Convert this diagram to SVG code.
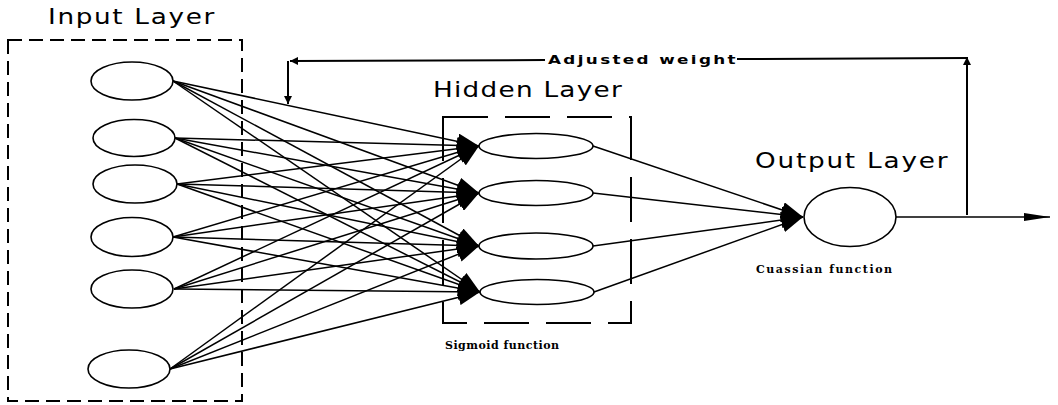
<svg xmlns="http://www.w3.org/2000/svg" width="1058" height="405" viewBox="0 0 1058 405">
<style>
.bg{fill:#fff}
.node{fill:#fff;stroke:#000;stroke-width:1.6}
.box{fill:none;stroke:#000;stroke-width:2}
.in{stroke-dasharray:14 7}
.hid{stroke-dasharray:45 17}
.c{stroke:#000;stroke-width:1.5;fill:none}
.fb{stroke-width:2}
.title{font-family:"DejaVu Sans",sans-serif;font-size:21px;fill:#000}
.small{font-family:"DejaVu Serif",serif;font-weight:bold;font-size:11px;fill:#000}
.adj{font-family:"DejaVu Sans",sans-serif;font-weight:bold;font-size:12px;fill:#000}
</style>
<defs>
<marker id="ah" viewBox="0 0 22 16" markerUnits="userSpaceOnUse" markerWidth="22" markerHeight="16" refX="22" refY="8" orient="auto">
<path d="M0,0 L22,8 L0,16 z" fill="#000"/>
</marker>
<marker id="ao" viewBox="0 0 26 8" markerUnits="userSpaceOnUse" markerWidth="26" markerHeight="8" refX="26" refY="4" orient="auto">
<path d="M0,0 L26,4 L0,8 z" fill="#000"/>
</marker>
<marker id="as" viewBox="0 0 8 8" markerUnits="userSpaceOnUse" markerWidth="8" markerHeight="8" refX="8" refY="4" orient="auto">
<path d="M0,0 L8,4 L0,8 z" fill="#000"/>
</marker>
</defs>
<rect class="bg" x="0" y="0" width="1058" height="405"/>
<g id="input-layer">
<rect class="box in" x="8" y="40" width="234" height="361"/>
<text class="title" transform="translate(48,24) scale(1.25,1)" x="0" y="0" textLength="133" lengthAdjust="spacing">Input Layer</text>
</g>
<g id="hidden-layer">
<rect class="box hid" x="443" y="117" width="188" height="206"/>
<text class="title" transform="translate(433,97) scale(1.25,1)" x="0" y="0" textLength="151" lengthAdjust="spacing">Hidden Layer</text>
<text class="small" x="445" y="349" textLength="114" lengthAdjust="spacing">Sigmoid function</text>
</g>
<g id="output-layer">
<text class="title" transform="translate(755,168) scale(1.25,1)" x="0" y="0" textLength="154" lengthAdjust="spacing">Output Layer</text>
<text class="small" x="756" y="273" textLength="136" lengthAdjust="spacing">Cuassian function</text>
</g>
<g id="connectors">
<g id="input-to-hidden">
<line class="c" x1="173" y1="81" x2="479" y2="146" marker-end="url(#ah)"/>
<line class="c" x1="173" y1="81" x2="479" y2="193" marker-end="url(#ah)"/>
<line class="c" x1="173" y1="81" x2="479" y2="246" marker-end="url(#ah)"/>
<line class="c" x1="173" y1="81" x2="480" y2="292" marker-end="url(#ah)"/>
<line class="c" x1="175" y1="138" x2="479" y2="146" marker-end="url(#ah)"/>
<line class="c" x1="175" y1="138" x2="479" y2="193" marker-end="url(#ah)"/>
<line class="c" x1="175" y1="138" x2="479" y2="246" marker-end="url(#ah)"/>
<line class="c" x1="175" y1="138" x2="480" y2="292" marker-end="url(#ah)"/>
<line class="c" x1="177" y1="184" x2="479" y2="146" marker-end="url(#ah)"/>
<line class="c" x1="177" y1="184" x2="479" y2="193" marker-end="url(#ah)"/>
<line class="c" x1="177" y1="184" x2="479" y2="246" marker-end="url(#ah)"/>
<line class="c" x1="177" y1="184" x2="480" y2="292" marker-end="url(#ah)"/>
<line class="c" x1="173" y1="237" x2="479" y2="146" marker-end="url(#ah)"/>
<line class="c" x1="173" y1="237" x2="479" y2="193" marker-end="url(#ah)"/>
<line class="c" x1="173" y1="237" x2="479" y2="246" marker-end="url(#ah)"/>
<line class="c" x1="173" y1="237" x2="480" y2="292" marker-end="url(#ah)"/>
<line class="c" x1="174" y1="289" x2="479" y2="146" marker-end="url(#ah)"/>
<line class="c" x1="174" y1="289" x2="479" y2="193" marker-end="url(#ah)"/>
<line class="c" x1="174" y1="289" x2="479" y2="246" marker-end="url(#ah)"/>
<line class="c" x1="174" y1="289" x2="480" y2="292" marker-end="url(#ah)"/>
<line class="c" x1="170" y1="369" x2="479" y2="146" marker-end="url(#ah)"/>
<line class="c" x1="170" y1="369" x2="479" y2="193" marker-end="url(#ah)"/>
<line class="c" x1="170" y1="369" x2="479" y2="246" marker-end="url(#ah)"/>
<line class="c" x1="170" y1="369" x2="480" y2="292" marker-end="url(#ah)"/>
</g>
<g id="hidden-to-output">
<line class="c" x1="593" y1="146" x2="803" y2="217" marker-end="url(#ah)"/>
<line class="c" x1="593" y1="193" x2="803" y2="217" marker-end="url(#ah)"/>
<line class="c" x1="593" y1="246" x2="803" y2="217" marker-end="url(#ah)"/>
<line class="c" x1="594" y1="292" x2="803" y2="217" marker-end="url(#ah)"/>
</g>
<line class="c" x1="896" y1="217" x2="1050" y2="217" marker-end="url(#ao)"/>
<g id="feedback">
<line class="c fb" x1="967" y1="215" x2="967" y2="57" marker-end="url(#as)"/>
<line class="c fb" x1="967" y1="58" x2="737" y2="59"/>
<line class="c fb" x1="545" y1="60" x2="290" y2="61" marker-end="url(#as)"/>
<line class="c fb" x1="288" y1="61" x2="288" y2="104" marker-end="url(#as)"/>
<text class="adj" transform="translate(548,64) scale(1.4,1)" x="0" y="0" textLength="134" lengthAdjust="spacing">Adjusted weight</text>
</g>
</g>
<g id="in1"><ellipse class="node" cx="132" cy="81" rx="41" ry="19"/></g>
<g id="in2"><ellipse class="node" cx="134" cy="138" rx="41" ry="18.5"/></g>
<g id="in3"><ellipse class="node" cx="135" cy="184" rx="42" ry="19"/></g>
<g id="in4"><ellipse class="node" cx="132" cy="237" rx="41" ry="19.5"/></g>
<g id="in5"><ellipse class="node" cx="132" cy="289" rx="41" ry="19"/></g>
<g id="in6"><ellipse class="node" cx="129" cy="369" rx="41" ry="19"/></g>
<g id="h1"><ellipse class="node" cx="536" cy="146" rx="57" ry="12.5"/></g>
<g id="h2"><ellipse class="node" cx="536" cy="193" rx="57" ry="12.5"/></g>
<g id="h3"><ellipse class="node" cx="536" cy="246" rx="57" ry="13"/></g>
<g id="h4"><ellipse class="node" cx="537" cy="292" rx="57" ry="12.5"/></g>
<g id="out"><ellipse class="node" cx="850" cy="217" rx="46" ry="29.5"/></g>
</svg>
